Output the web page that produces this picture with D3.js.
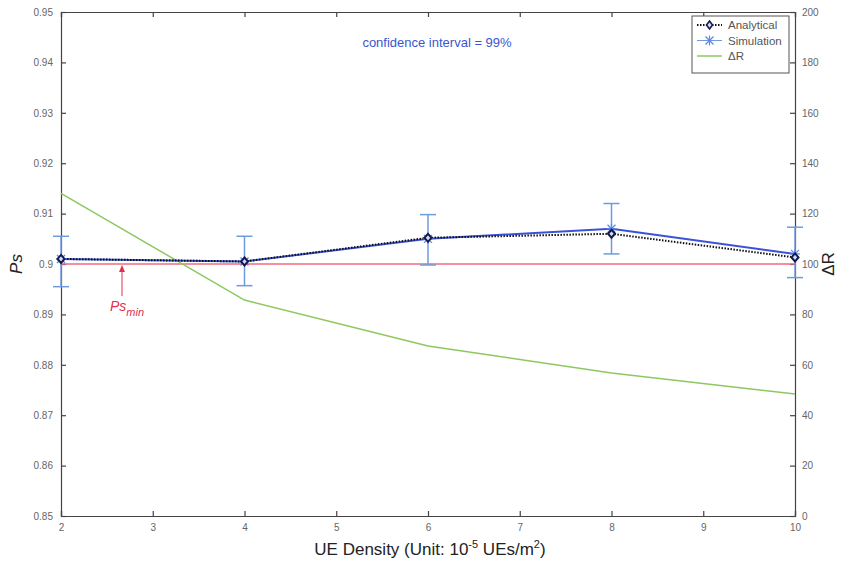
<!DOCTYPE html>
<html>
<head>
<meta charset="utf-8">
<script src="https://cdn.jsdelivr.net/npm/d3@7"></script>
<style>
  body { margin: 0; background: #fff; }
  text { font-family: "Liberation Sans", Arial, sans-serif; }
</style>
</head>
<body>
<script>
// dados
const density = [2, 4, 6, 8, 10];
const analytical = [0.901, 0.9005, 0.9052, 0.906, 0.9013];
const simulation = [0.901, 0.9005, 0.905, 0.907, 0.902];
const simLow = [0.8955, 0.8957, 0.8998, 0.902, 0.8973];
const simHigh = [0.9055, 0.9055, 0.9098, 0.912, 0.9073];
const deltaR = [128, 85.7, 67.5, 56.7, 48.4];
const psMin = 0.9;
const xTicks = [2, 3, 4, 5, 6, 7, 8, 9, 10];
const yTicks = [0.85, 0.86, 0.87, 0.88, 0.89, 0.9, 0.91, 0.92, 0.93, 0.94, 0.95];
const rTicks = [0, 20, 40, 60, 80, 100, 120, 140, 160, 180, 200];

const W = 841, H = 574;
const m = { left: 61, right: 46, top: 12, bottom: 58 };

const svg = d3.select("body").append("svg")
    .attr("width", W)
    .attr("height", H);

const x = d3.scaleLinear().domain([2, 10]).range([m.left, W - m.right]);
const y = d3.scaleLinear().domain([0.85, 0.95]).range([H - m.bottom, m.top]);
const yR = d3.scaleLinear().domain([0, 200]).range([H - m.bottom, m.top]);

// eixos
const styleAxis = g => {
  g.select(".domain").attr("stroke", "#444").attr("stroke-width", 1.2);
  g.selectAll(".tick line").attr("stroke", "#444").attr("stroke-width", 1.2);
  g.selectAll(".tick text").attr("fill", "#666").attr("font-size", 10)
    .attr("font-family", "'Liberation Sans Narrow', 'Liberation Sans', sans-serif");
};

svg.append("g")
    .attr("transform", `translate(0,${H - m.bottom})`)
    .call(d3.axisBottom(x).tickValues(xTicks).tickSize(-5).tickPadding(8).tickFormat(d3.format("d")))
    .call(styleAxis);

svg.append("g")
    .attr("transform", `translate(0,${m.top})`)
    .call(d3.axisTop(x).tickValues(xTicks).tickSize(-5).tickFormat(""))
    .call(styleAxis);

svg.append("g")
    .attr("transform", `translate(${m.left},0)`)
    .call(d3.axisLeft(y).tickValues(yTicks).tickSize(-5).tickPadding(8).tickFormat(d3.format(".2~f")))
    .call(styleAxis);

svg.append("g")
    .attr("transform", `translate(${W - m.right},0)`)
    .call(d3.axisRight(yR).tickValues(rTicks).tickSize(-5).tickPadding(7).tickFormat(d3.format("d")))
    .call(styleAxis);

// linha Ps_min
svg.append("line")
    .attr("x1", x(2)).attr("x2", x(10))
    .attr("y1", y(psMin)).attr("y2", y(psMin))
    .attr("stroke", "#f06a7a")
    .attr("stroke-width", 1.5);

// Delta R
const lineR = d3.line().x((d, i) => x(density[i])).y(d => yR(d));
svg.append("path")
    .attr("d", lineR(deltaR))
    .attr("fill", "none")
    .attr("stroke", "#8cc860")
    .attr("stroke-width", 1.5);

// barras de erro
const errs = svg.append("g").attr("stroke", "#6e9be0").attr("stroke-width", 1.5);
density.forEach((d, i) => {
  errs.append("line").attr("x1", x(d)).attr("x2", x(d)).attr("y1", y(simLow[i])).attr("y2", y(simHigh[i]));
  errs.append("line").attr("x1", x(d) - 8).attr("x2", x(d) + 8).attr("y1", y(simLow[i])).attr("y2", y(simLow[i]));
  errs.append("line").attr("x1", x(d) - 8).attr("x2", x(d) + 8).attr("y1", y(simHigh[i])).attr("y2", y(simHigh[i]));
});

// simulacao
const lineP = d3.line().x((d, i) => x(density[i])).y(d => y(d));
svg.append("path")
    .attr("d", lineP(simulation))
    .attr("fill", "none")
    .attr("stroke", "#3a52d8")
    .attr("stroke-width", 2);

// analitico
svg.append("path")
    .attr("d", lineP(analytical))
    .attr("fill", "none")
    .attr("stroke", "#111")
    .attr("stroke-width", 2)
    .attr("stroke-dasharray", "1.5,1.5");

// marcadores
density.forEach((d, i) => {
  const cx = x(d), cy = y(simulation[i]);
  const star = svg.append("g").attr("stroke", "#5a8ae8").attr("stroke-width", 1.2);
  star.append("line").attr("x1", cx - 5).attr("x2", cx + 5).attr("y1", cy).attr("y2", cy);
  star.append("line").attr("x1", cx).attr("x2", cx).attr("y1", cy - 5).attr("y2", cy + 5);
  star.append("line").attr("x1", cx - 4).attr("x2", cx + 4).attr("y1", cy - 4).attr("y2", cy + 4);
  star.append("line").attr("x1", cx - 4).attr("x2", cx + 4).attr("y1", cy + 4).attr("y2", cy - 4);
  const ay = y(analytical[i]);
  svg.append("path")
      .attr("d", `M${cx},${ay - 4} L${cx + 3.5},${ay} L${cx},${ay + 4} L${cx - 3.5},${ay} Z`)
      .attr("fill", "#d8dcf0")
      .attr("stroke", "#141a50")
      .attr("stroke-width", 2);
});

// legenda
const lg = svg.append("g");
lg.append("rect")
    .attr("x", 692).attr("y", 16).attr("width", 97).attr("height", 57)
    .attr("fill", "#fff").attr("stroke", "#555").attr("stroke-width", 1);
const items = ["Analytical", "Simulation", "\u0394R"];
items.forEach((t, i) => {
  const ly = 25 + i * 15.5;
  lg.append("text").attr("x", 728).attr("y", ly + 4)
      .attr("font-size", 11.5).attr("fill", "#555").text(t);
});
lg.append("line").attr("x1", 697).attr("x2", 722).attr("y1", 25).attr("y2", 25)
    .attr("stroke", "#111").attr("stroke-width", 2).attr("stroke-dasharray", "1.5,1.5");
lg.append("path").attr("d", "M709.5,21 L712.5,25 L709.5,29 L706.5,25 Z")
    .attr("fill", "#d8dcf0").attr("stroke", "#141a50").attr("stroke-width", 1.6);
lg.append("line").attr("x1", 697).attr("x2", 722).attr("y1", 40.5).attr("y2", 40.5)
    .attr("stroke", "#6e9be0").attr("stroke-width", 1);
const ls = lg.append("g").attr("stroke", "#5a8ae8").attr("stroke-width", 1.2);
ls.append("line").attr("x1", 709.5).attr("x2", 709.5).attr("y1", 35.5).attr("y2", 45.5);
ls.append("line").attr("x1", 705.5).attr("x2", 713.5).attr("y1", 36.5).attr("y2", 44.5);
ls.append("line").attr("x1", 705.5).attr("x2", 713.5).attr("y1", 44.5).attr("y2", 36.5);
lg.append("line").attr("x1", 697).attr("x2", 722).attr("y1", 56).attr("y2", 56)
    .attr("stroke", "#8cc860").attr("stroke-width", 1.5);

// textos
svg.append("text")
    .attr("x", 437).attr("y", 47)
    .attr("text-anchor", "middle")
    .attr("font-size", 13)
    .attr("fill", "#3a55d0")
    .text("confidence interval = 99%");

// seta Ps_min
svg.append("line")
    .attr("x1", 122).attr("x2", 122).attr("y1", 296).attr("y2", 268)
    .attr("stroke", "#e03050").attr("stroke-width", 1);
svg.append("path")
    .attr("d", "M122,265 L119,272 L125,272 Z")
    .attr("fill", "#e03050");
const psm = svg.append("text")
    .attr("x", 110).attr("y", 311)
    .attr("fill", "#e03050")
    .attr("font-size", 14)
    .attr("font-style", "italic");
psm.append("tspan").text("Ps");
psm.append("tspan").attr("dy", 5).attr("font-size", 11).text("min");

// titulos dos eixos
const xt = svg.append("text")
    .attr("x", 430).attr("y", 555)
    .attr("text-anchor", "middle")
    .attr("font-size", 17)
    .attr("fill", "#222");
xt.append("tspan").text("UE Density (Unit: 10");
xt.append("tspan").attr("dy", -7).attr("font-size", 11).text("-5");
xt.append("tspan").attr("dy", 7).text(" UEs/m");
xt.append("tspan").attr("dy", -7).attr("font-size", 11).text("2");
xt.append("tspan").attr("dy", 7).text(")");

svg.append("text")
    .attr("transform", `translate(22,${y(0.9)}) rotate(-90)`)
    .attr("text-anchor", "middle")
    .attr("font-size", 17)
    .attr("font-style", "italic")
    .attr("fill", "#222")
    .text("Ps");

svg.append("text")
    .attr("transform", `translate(834,${y(0.9)}) rotate(-90)`)
    .attr("text-anchor", "middle")
    .attr("font-size", 17)
    .attr("fill", "#222")
    .text("\u0394R");
</script>
</body>
</html>
